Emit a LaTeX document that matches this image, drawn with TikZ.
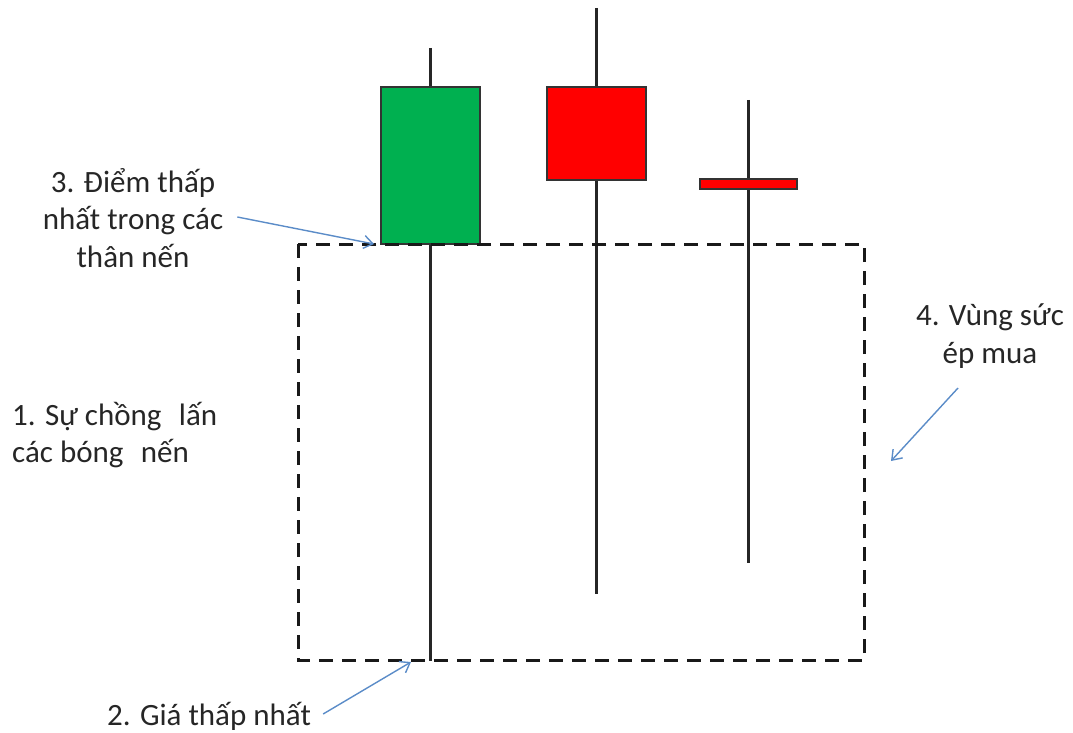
\documentclass[tikz,border=0pt]{standalone}
\usepackage{fontspec}
\setmainfont{Carlito}
\usetikzlibrary{arrows.meta}
\definecolor{cgreen}{HTML}{00B050}
\definecolor{cred}{HTML}{FF0000}
\definecolor{arrowblue}{HTML}{5B8CC8}
\begin{document}
\begin{tikzpicture}[x=1pt,y=-1pt,
  wick/.style={line width=3pt,black!85},
  bodybox/.style={draw=black!80,line width=1.6pt},
  zone/.style={line width=3pt,black!90,dash pattern=on 14pt off 9pt},
  pointer/.style={arrowblue,line width=1.4pt,-{Straight Barb[length=9pt,width=13pt]}},
  lbl/.style={font=\fontsize{31}{37.5}\selectfont,inner sep=0pt,text=black!85}]
\useasboundingbox (0,0) rectangle (1073,733);
% wicks
\coordinate (w1t) at (430,48);  \coordinate (w1b) at (430,661);
\coordinate (w2t) at (596,8);   \coordinate (w2b) at (596,594);
\coordinate (w3t) at (748,100); \coordinate (w3b) at (748,563);
\draw[wick] (w1t) -- (w1b);
\draw[wick] (w2t) -- (w2b);
\draw[wick] (w3t) -- (w3b);
% bodies
\draw[bodybox,fill=cgreen] (381,87) rectangle (480,244);
\draw[bodybox,fill=cred] (547,87) rectangle (646,180);
\draw[bodybox,fill=cred] (700,179) rectangle (797,189);
% zone
\draw[zone] (298,244) rectangle (864,660);
\coordinate (zoneright) at (891,461);
\coordinate (lowpt) at (411,662);
\coordinate (bodylow) at (374,244);
% labels
\node[lbl,align=center] (t3) at (133,218) {3. Điểm thấp\\nhất trong các\\thân nến};
\node[lbl,align=center] (t4) at (990,336) {4. Vùng sức\\ép mua};
\node[lbl,align=left,anchor=west] (t1) at (12,435) {1. Sự chồng\,\, lấn\\các bóng\,\, nến};
\node[lbl,anchor=west] (t2) at (107,716) {2. Giá thấp nhất};
% pointers
\draw[pointer] (t3.east |- 0,217) ++(14,0) -- (bodylow);
\draw[pointer] (958,388) -- (zoneright);
\draw[pointer] (t2.east) ++(12,-2) -- (lowpt);
\end{tikzpicture}
\end{document}
